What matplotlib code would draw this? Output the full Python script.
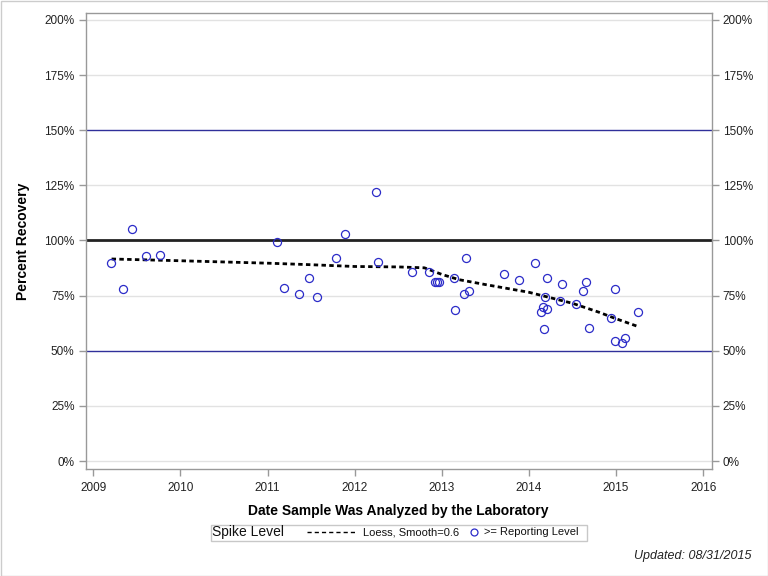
import matplotlib
matplotlib.use("Agg")
import matplotlib.pyplot as plt
from matplotlib.lines import Line2D
from matplotlib.patches import Rectangle
import matplotlib.ticker as mticker

plt.rcParams['font.family'] = ['Liberation Sans', 'DejaVu Sans']

# Sample dates (decimal years) and percent recovery
sample_year = [2009.207, 2009.338, 2009.448, 2009.609, 2009.763,
               2011.103, 2011.184, 2011.356, 2011.471, 2011.563, 2011.782, 2011.885,
               2012.241, 2012.264, 2012.658, 2012.853, 2012.92, 2012.95, 2012.97,
               2013.14, 2013.28, 2013.15, 2013.26, 2013.31, 2013.71, 2013.885,
               2014.07, 2014.21, 2014.18, 2014.38, 2014.36, 2014.16, 2014.14, 2014.21,
               2014.17, 2014.54, 2014.66, 2014.62, 2014.69, 2014.99, 2014.94, 2014.99,
               2015.07, 2015.10, 2015.25]
recovery = [89.7, 77.9, 105.1, 92.8, 93.3,
            99.2, 78.3, 75.6, 82.9, 74.2, 91.9, 102.8,
            121.9, 90.1, 85.7, 85.7, 81.2, 81.2, 81.2,
            82.9, 91.9, 68.3, 75.7, 77.1, 84.7, 82.0,
            89.7, 82.9, 74.2, 80.1, 72.4, 69.7, 67.7, 68.8,
            59.7, 71.1, 81.0, 77.0, 60.2, 77.9, 64.9, 54.3,
            53.7, 55.6, 67.4]

# Loess smooth curve
loess_year = [2009.21, 2010.0, 2011.0, 2011.5, 2012.0, 2012.5, 2012.8, 2013.0,
              2013.2, 2013.5, 2014.0, 2014.2, 2014.5, 2014.8, 2015.0, 2015.25]
loess_pct = [91.6, 90.8, 89.7, 89.0, 88.2, 88.0, 87.6, 84.6,
             82.2, 80.0, 76.5, 74.5, 71.5, 67.5, 64.5, 61.0]

x_ticks = [2009, 2010, 2011, 2012, 2013, 2014, 2015, 2016]
y_ticks = [0, 25, 50, 75, 100, 125, 150, 175, 200]
ref_lines = [50, 150]
target = 100

W, H = 768, 576
fig = plt.figure(figsize=(W/100, H/100), dpi=100)
ax = fig.add_axes([85.7/W, 1-469.3/H, (711.7-85.7)/W, (469.3-13.3)/H])

ax.set_xlim(2008.913, 2016.097)
ax.set_ylim(-3.76, 203.0)

for y in y_ticks:
    if y in ref_lines or y == target:
        continue
    ax.axhline(y, color='#e2e2e2', lw=1, zorder=1)
for y in ref_lines:
    ax.axhline(y, color='#30309a', lw=1, zorder=2)
ax.axhline(target, color='#222222', lw=2.0, zorder=2)

ax.plot(loess_year, loess_pct, color='black', lw=2, dashes=(1.6, 1.2), zorder=3)
ax.plot(sample_year, recovery, linestyle='none', marker='o', markersize=5.8,
        markerfacecolor='none', markeredgecolor='#2b2bc8', markeredgewidth=0.9, zorder=4)

ax.set_xticks(x_ticks)
ax.set_xticklabels([str(v) for v in x_ticks])
ax.set_yticks(y_ticks)
ax.yaxis.set_major_formatter(mticker.FuncFormatter(lambda v, p: f"{int(v)}%"))
ax.tick_params(axis='both', which='both', direction='out', length=5, width=1,
               color='#999999', labelsize=8.5, labelcolor='#222222')
ax.tick_params(axis='y', right=True, labelright=True, pad=3)
ax.tick_params(axis='x', pad=4)
for s in ax.spines.values():
    s.set_color('#999999')
    s.set_linewidth(1)

ax.set_xlabel('Date Sample Was Analyzed by the Laboratory', fontsize=10,
              fontweight='bold', labelpad=7)
ax.set_ylabel('Percent Recovery', fontsize=10, fontweight='bold', labelpad=10)

# Legend drawn by hand: frame, title, dashed sample, marker sample, labels
ly = 1 - 532.3/H
fig.patches.append(Rectangle((210.5/W, 1-540.5/H), 376/W, 16/H,
                             transform=fig.transFigure, fill=False,
                             edgecolor='#c8c8c8', lw=1))
fig.text(212.5/W, ly, 'Spike Level', ha='left', va='center',
         fontsize=10, color='#111111')
fig.add_artist(Line2D([307/W, 356/W], [ly, ly], transform=fig.transFigure,
                      color='black', lw=1, dashes=(3, 2.2)))
fig.text(363/W, ly, 'Loess, Smooth=0.6', ha='left', va='center', fontsize=8, color='#111111')
fig.add_artist(Line2D([474/W], [ly], transform=fig.transFigure, linestyle='none',
                      marker='o', markersize=5, markerfacecolor='none',
                      markeredgecolor='#2b2bc8', markeredgewidth=0.9))
fig.text(484/W, ly, '>= Reporting Level', ha='left', va='center', fontsize=8, color='#111111')

fig.text(752/W, 1-556/H, 'Updated: 08/31/2015', ha='right', va='center',
         fontsize=9, style='italic', color='#222222')

fig.patches.append(Rectangle((0.5/W, 0.5/H), 1-1/W, 1-1/H, transform=fig.transFigure,
                             fill=False, edgecolor='#cccccc', lw=1))

fig.savefig('out.png', dpi=100)
